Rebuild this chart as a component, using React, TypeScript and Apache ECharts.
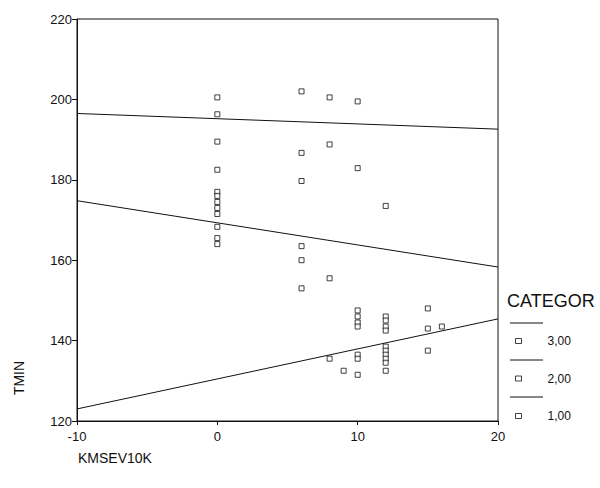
import React, { useEffect, useRef } from "react";
import * as echarts from "echarts";

const xTicks = [-10, 0, 10, 20];
const yTicks = [120, 140, 160, 180, 200, 220];

const categoryNames = ["3,00", "2,00", "1,00"];

const cat3X = [0, 0, 0, 0, 6, 6, 6, 8, 8, 10, 10];
const cat3Y = [200.5, 196.3, 189.5, 182.5, 202, 186.7, 179.7, 200.5, 188.8, 199.5, 182.9];

const cat2X = [0, 0, 0, 0, 0, 0, 0, 0, 6, 6, 6, 8, 12];
const cat2Y = [177, 176, 174.5, 173, 171.5, 168.3, 165.5, 164, 163.5, 160, 153, 155.5, 173.5];

const cat1X = [8, 9, 10, 10, 10, 10, 10, 10, 10, 12, 12, 12, 12, 12, 12, 12, 12, 12, 12, 15, 15, 15, 16];
const cat1Y = [
  135.5, 132.5, 147.5, 146, 144.5, 143.5, 136.5, 135.5, 131.5, 146, 145, 143.5, 142.5, 138.5, 137.5,
  136.5, 135.5, 134.5, 132.5, 148, 143, 137.5, 143.5,
];

const fitX = [-10, 20];
const fit3Y = [196.5, 192.6];
const fit2Y = [174.8, 158.3];
const fit1Y = [123, 145.4];

const FONT = "'Liberation Sans', Arial, sans-serif";
const INK = "#111";

function pairs(xs: number[], ys: number[]) {
  return xs.map((x, i) => [x, ys[i]]);
}

export default function App() {
  const ref = useRef<HTMLDivElement>(null);

  useEffect(() => {
    if (!ref.current) return;
    const chart = echarts.init(ref.current, null, { renderer: "svg" });

    const pointStyle = {
      color: "#fff",
      borderColor: INK,
      borderWidth: 1,
    };
    const scatter = (name: string, xs: number[], ys: number[]) => ({
      name,
      type: "scatter",
      symbol: "rect",
      symbolSize: 5,
      itemStyle: pointStyle,
      data: pairs(xs, ys),
      z: 3,
    });
    const fit = (name: string, ys: number[]) => ({
      name,
      type: "line",
      data: pairs(fitX, ys),
      symbol: "none",
      lineStyle: { color: INK, width: 1 },
      z: 2,
    });

    chart.setOption({
      animation: false,
      backgroundColor: "#fff",
      grid: {
        left: 77,
        right: 102,
        top: 19,
        bottom: 67,
        show: true,
        borderColor: INK,
        borderWidth: 1,
        backgroundColor: "transparent",
      },
      xAxis: {
        type: "value",
        min: xTicks[0],
        max: xTicks[xTicks.length - 1],
        interval: 10,
        axisLine: { show: true, onZero: false, lineStyle: { color: INK, width: 1 } },
        axisTick: { show: true, length: 4, lineStyle: { color: INK } },
        splitLine: { show: false },
        axisLabel: { color: INK, fontFamily: FONT, fontSize: 13, margin: 9 },
      },
      yAxis: {
        type: "value",
        min: yTicks[0],
        max: yTicks[yTicks.length - 1],
        interval: 20,
        axisLine: { show: true, onZero: false, lineStyle: { color: INK, width: 1 } },
        axisTick: { show: true, length: 5, lineStyle: { color: INK } },
        splitLine: { show: false },
        axisLabel: { color: INK, fontFamily: FONT, fontSize: 13, margin: 5 },
      },
      legend: {
        data: categoryNames,
        orient: "vertical",
        left: 515,
        top: 335,
        padding: 0,
        itemWidth: 6,
        itemHeight: 5,
        itemGap: 25.5,
        icon: "rect",
        itemStyle: { color: "#fff", borderColor: INK, borderWidth: 1 },
        textStyle: {
          color: INK,
          fontFamily: FONT,
          fontSize: 12,
          padding: [0, 0, 0, 21],
        },
      },
      graphic: [
        {
          type: "text",
          left: 507,
          top: 292,
          style: { text: "CATEGOR", fill: INK, font: `18px ${FONT}` },
        },
        { type: "line", shape: { x1: 510, y1: 323, x2: 543, y2: 323 }, style: { stroke: INK, lineWidth: 1 } },
        { type: "line", shape: { x1: 510, y1: 360, x2: 543, y2: 360 }, style: { stroke: INK, lineWidth: 1 } },
        { type: "line", shape: { x1: 510, y1: 397, x2: 543, y2: 397 }, style: { stroke: INK, lineWidth: 1 } },
        {
          type: "text",
          x: 19,
          y: 378,
          rotation: Math.PI / 2,
          style: { text: "TMIN", fill: INK, font: `14px ${FONT}`, align: "center", verticalAlign: "middle" },
        },
        {
          type: "text",
          left: 78,
          top: 451,
          style: { text: "KMSEV10K", fill: INK, font: `14px ${FONT}` },
        },
      ],
      series: [
        scatter(categoryNames[0], cat3X, cat3Y),
        scatter(categoryNames[1], cat2X, cat2Y),
        scatter(categoryNames[2], cat1X, cat1Y),
        fit("fit3", fit3Y),
        fit("fit2", fit2Y),
        fit("fit1", fit1Y),
      ],
    });

    return () => chart.dispose();
  }, []);

  return (
    <div
      ref={ref}
      style={{ position: "absolute", left: 0, top: 0, width: 600, height: 488 }}
    />
  );
}
